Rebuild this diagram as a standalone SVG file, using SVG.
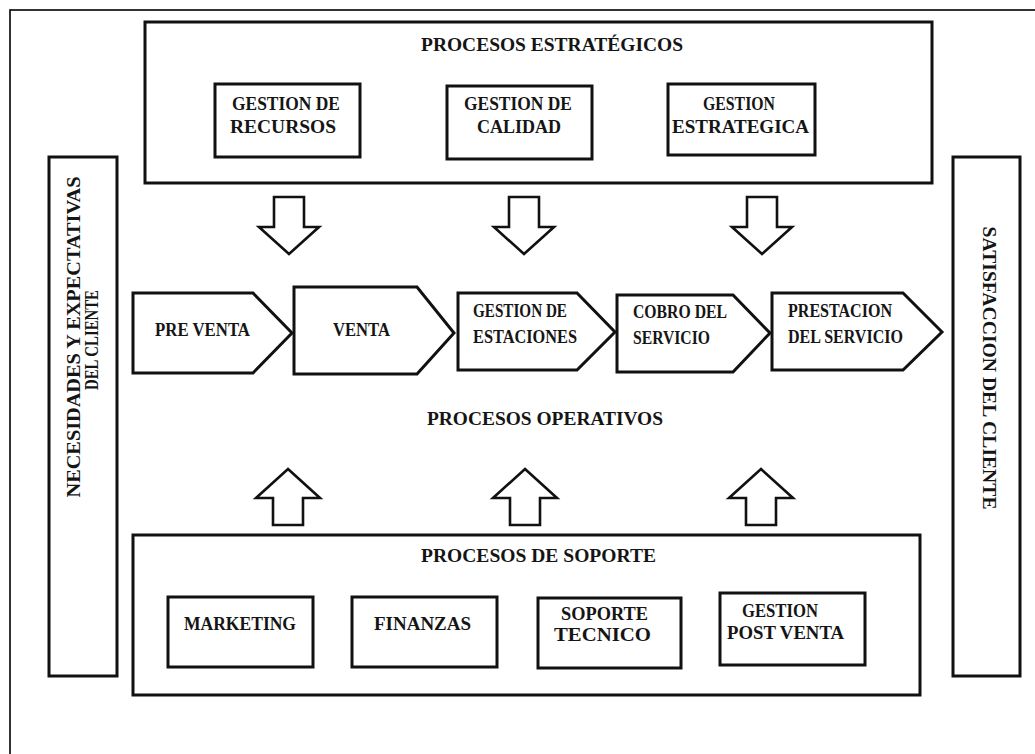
<svg xmlns="http://www.w3.org/2000/svg" width="1035" height="754" viewBox="0 0 1035 754">
  <style>
    .frame { fill: none; stroke: #000; stroke-width: 1.6; }
    .box { fill: #fff; stroke: #111; stroke-width: 3; stroke-linejoin: miter; }
    .proc { fill: #fff; stroke: #111; stroke-width: 3; stroke-linejoin: miter; }
    .arrow { fill: #fff; stroke: #111; stroke-width: 2.6; stroke-linejoin: miter; }
    text { font-family: "Liberation Serif", "Times New Roman", serif; font-weight: bold; fill: #151515; }
    .t { font-size: 18px; }
    .h { font-size: 19px; }
  </style>
  <defs>
    <!-- hollow block arrows: down (strategic to operative) and up (support to operative) -->
    <path id="arrowDown" class="arrow" d="M -15 0 L 15 0 L 15 30 L 30 30 L 0 57 L -30 30 L -15 30 Z"/>
    <path id="arrowUp" class="arrow" d="M 0 0 L 32 29 L 15 29 L 15 56 L -15 56 L -15 29 L -32 29 Z"/>
  </defs>

  <rect width="1035" height="754" fill="#fff"/>
  <rect class="frame" x="10" y="10" width="1040" height="760"/>

  <!-- Strategic processes -->
  <g id="estrategicos">
    <rect class="box" x="145" y="22" width="787" height="161"/>
    <text class="h" x="421" y="51" textLength="262" lengthAdjust="spacingAndGlyphs">PROCESOS ESTRATÉGICOS</text>
  </g>
  <g id="gestion-recursos">
    <rect class="box" x="215" y="84" width="145" height="73"/>
    <text class="t" x="232" y="110" textLength="108" lengthAdjust="spacingAndGlyphs">GESTION DE</text>
    <text class="t" x="230" y="133" textLength="106" lengthAdjust="spacingAndGlyphs">RECURSOS</text>
  </g>
  <g id="gestion-calidad">
    <rect class="box" x="447" y="86" width="145" height="73"/>
    <text class="t" x="464" y="110" textLength="108" lengthAdjust="spacingAndGlyphs">GESTION DE</text>
    <text class="t" x="477" y="133" textLength="84" lengthAdjust="spacingAndGlyphs">CALIDAD</text>
  </g>
  <g id="gestion-estrategica">
    <rect class="box" x="668" y="84" width="147" height="71"/>
    <text class="t" x="703" y="110" textLength="72" lengthAdjust="spacingAndGlyphs">GESTION</text>
    <text class="t" x="672" y="133" textLength="137" lengthAdjust="spacingAndGlyphs">ESTRATEGICA</text>
  </g>

  <!-- Operative process chain -->
  <g id="pre-venta">
    <polygon class="proc" points="133,293 253,293 292,333 253,373 133,373"/>
    <text class="t" x="155" y="336" textLength="95" lengthAdjust="spacingAndGlyphs">PRE VENTA</text>
  </g>
  <g id="venta">
    <polygon class="proc" points="294,287 417,287 454,333 417,374 294,374"/>
    <text class="t" x="333" y="336" textLength="57" lengthAdjust="spacingAndGlyphs">VENTA</text>
  </g>
  <g id="gestion-estaciones">
    <polygon class="proc" points="458,293 577,293 615,332 577,370 458,370"/>
    <text class="t" x="473" y="317" textLength="94" lengthAdjust="spacingAndGlyphs">GESTION DE</text>
    <text class="t" x="473" y="343" textLength="104" lengthAdjust="spacingAndGlyphs">ESTACIONES</text>
  </g>
  <g id="cobro-servicio">
    <polygon class="proc" points="617,295 733,295 770,333 733,372 617,372"/>
    <text class="t" x="633" y="318" textLength="94" lengthAdjust="spacingAndGlyphs">COBRO DEL</text>
    <text class="t" x="633" y="344" textLength="77" lengthAdjust="spacingAndGlyphs">SERVICIO</text>
  </g>
  <g id="prestacion-servicio">
    <polygon class="proc" points="772,293 903,293 942,332 903,370 772,370"/>
    <text class="t" x="788" y="317" textLength="104" lengthAdjust="spacingAndGlyphs">PRESTACION</text>
    <text class="t" x="788" y="343" textLength="115" lengthAdjust="spacingAndGlyphs">DEL SERVICIO</text>
  </g>
  <g id="operativos">
    <text class="h" x="427" y="425" textLength="236" lengthAdjust="spacingAndGlyphs">PROCESOS OPERATIVOS</text>
  </g>

  <!-- Support processes -->
  <g id="soporte">
    <rect class="box" x="133" y="535" width="787" height="160"/>
    <text class="h" x="421" y="562" textLength="235" lengthAdjust="spacingAndGlyphs">PROCESOS  DE SOPORTE</text>
  </g>
  <g id="marketing">
    <rect class="box" x="168" y="597" width="145" height="70"/>
    <text class="t" x="184" y="630" textLength="112" lengthAdjust="spacingAndGlyphs">MARKETING</text>
  </g>
  <g id="finanzas">
    <rect class="box" x="352" y="597" width="145" height="70"/>
    <text class="t" x="374" y="630" textLength="97" lengthAdjust="spacingAndGlyphs">FINANZAS</text>
  </g>
  <g id="soporte-tecnico">
    <rect class="box" x="538" y="598" width="143" height="70"/>
    <text class="t" x="561" y="620" textLength="87" lengthAdjust="spacingAndGlyphs">SOPORTE</text>
    <text class="t" x="554" y="641" textLength="97" lengthAdjust="spacingAndGlyphs">TECNICO</text>
  </g>
  <g id="gestion-post-venta">
    <rect class="box" x="720" y="593" width="145" height="72"/>
    <text class="t" x="742" y="617" textLength="76" lengthAdjust="spacingAndGlyphs">GESTION</text>
    <text class="t" x="727" y="639" textLength="117" lengthAdjust="spacingAndGlyphs">POST VENTA</text>
  </g>

  <!-- Customer input and output -->
  <g id="necesidades">
    <rect class="box" x="49" y="157" width="68" height="519"/>
    <text class="t" text-anchor="middle" transform="translate(80,337) rotate(-90)" textLength="321" lengthAdjust="spacingAndGlyphs">NECESIDADES  Y  EXPECTATIVAS</text>
    <text class="t" text-anchor="middle" transform="translate(98,340) rotate(-90)" textLength="100" lengthAdjust="spacingAndGlyphs">DEL CLIENTE</text>
  </g>
  <g id="satisfaccion">
    <rect class="box" x="953" y="157" width="67" height="519"/>
    <text class="t" text-anchor="middle" transform="translate(983,368) rotate(90)" textLength="283" lengthAdjust="spacingAndGlyphs">SATISFACCION  DEL  CLIENTE</text>
  </g>

  <!-- Block arrows between process levels -->
  <g id="connectors">
    <use href="#arrowDown" x="289" y="197"/>
    <use href="#arrowDown" x="524" y="197"/>
    <use href="#arrowDown" x="762" y="197"/>
    <use href="#arrowUp" x="288" y="469"/>
    <use href="#arrowUp" x="525" y="469"/>
    <use href="#arrowUp" x="761" y="469"/>
  </g>
</svg>
